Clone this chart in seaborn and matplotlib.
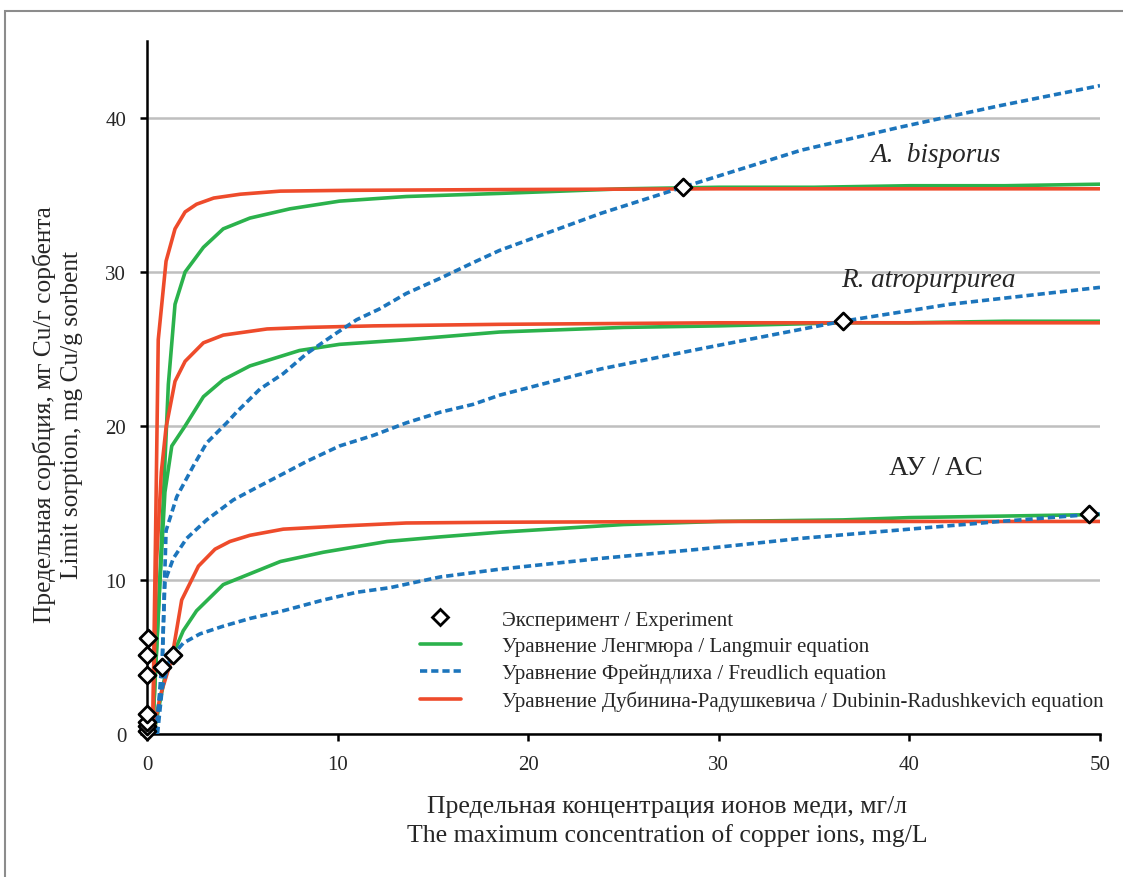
import numpy as np
import pandas as pd
import matplotlib
matplotlib.use("Agg")
import matplotlib.pyplot as plt
from matplotlib.lines import Line2D
from matplotlib.patches import Rectangle
import seaborn as sns

# experimental points
exp_x = [0.0, 0.0, 0.0, 0.0, 0.0, 0.0, 0.07, 0.8, 1.35, 28.1, 36.5, 49.4]
exp_y = [0.2, 0.5, 0.8, 1.3, 3.8, 5.1, 6.2, 4.35, 5.1, 35.5, 26.8, 14.3]

# A. bisporus
ab_lang_x = [0.3, 0.6, 0.86, 1.12, 1.47, 2.0, 2.96, 4.0, 5.4, 7.5, 10.1, 13.6, 18.5, 25, 30, 35, 40, 45, 50]
ab_lang_y = [0.3, 8.0, 15.4, 22.7, 27.9, 30.0, 31.6, 32.8, 33.5, 34.1, 34.6, 34.9, 35.1, 35.4, 35.5, 35.5, 35.6, 35.6, 35.7]
ab_dr_x = [0.3, 0.45, 0.59, 1.0, 1.47, 2.0, 2.6, 3.5, 4.9, 7.0, 10.5, 18.5, 30, 40, 50]
ab_dr_y = [0.3, 13.0, 25.6, 30.7, 32.8, 33.9, 34.4, 34.8, 35.05, 35.25, 35.3, 35.35, 35.4, 35.4, 35.4]
ab_fr_x = [0.45, 0.8, 0.9, 1.0, 1.56, 2.43, 3.13, 4.18, 4.7, 5.93, 7.15, 8.38, 9.78, 11.0, 12.2, 13.6,
           15.4, 17.1, 18.5, 23.8, 28.1, 34.3, 39.5, 44.75, 50]
ab_fr_y = [0.0, 4.0, 9.0, 13.2, 15.4, 17.4, 18.9, 20.2, 20.9, 22.4, 23.4, 24.7, 25.9, 26.9, 27.6, 28.6,
           29.6, 30.6, 31.4, 33.8, 35.5, 37.9, 39.4, 40.8, 42.1]

# R. atropurpurea
ra_lang_x = [0.3, 0.6, 0.94, 1.3, 2.0, 2.96, 4.0, 5.4, 8.0, 10.1, 13.6, 18.5, 25, 30, 36.5, 40, 45, 50]
ra_lang_y = [0.3, 8.0, 15.7, 18.7, 20.0, 21.9, 23.0, 23.9, 24.9, 25.3, 25.6, 26.1, 26.4, 26.5, 26.7, 26.7, 26.8, 26.8]
ra_dr_x = [0.3, 0.5, 0.75, 1.0, 1.47, 2.0, 2.96, 4.0, 6.3, 8.4, 11.9, 18.5, 30, 40, 50]
ra_dr_y = [0.3, 11.2, 17.0, 19.9, 22.9, 24.2, 25.4, 25.9, 26.3, 26.4, 26.5, 26.6, 26.7, 26.7, 26.7]
ra_fr_x = [0.5, 0.8, 0.94, 1.38, 2.08, 3.13, 4.53, 5.75, 7.15, 8.38, 10.1, 11.9, 13.6, 15.4, 17.1, 18.5,
           23.8, 29.0, 36.5, 42.1, 50]
ra_fr_y = [0.0, 5.0, 9.9, 11.4, 12.7, 13.9, 15.2, 16.0, 16.9, 17.7, 18.7, 19.4, 20.2, 20.9, 21.4, 22.0,
           23.7, 25.0, 26.8, 27.9, 29.0]

# activated carbon
ac_lang_x = [0.4, 0.9, 1.38, 1.9, 2.6, 4.0, 5.4, 7.0, 9.25, 12.6, 15.4, 18.5, 25, 30, 36.5, 40, 45, 50]
ac_lang_y = [0.3, 3.5, 5.2, 6.7, 8.0, 9.7, 10.4, 11.2, 11.8, 12.5, 12.8, 13.1, 13.6, 13.8, 13.9, 14.05, 14.15, 14.25]
ac_dr_x = [0.35, 0.7, 1.3, 1.82, 2.7, 3.57, 4.35, 5.4, 7.15, 10.1, 13.6, 18.5, 30, 40, 50]
ac_dr_y = [0.3, 2.5, 4.9, 8.7, 10.9, 12.0, 12.5, 12.9, 13.3, 13.5, 13.7, 13.75, 13.8, 13.8, 13.8]
ac_fr_x = [0.55, 0.8, 1.2, 1.9, 2.78, 4.0, 5.4, 7.15, 9.25, 11.0, 12.75, 15.4, 18.5, 23.8, 29.0, 34.3, 40, 44.75, 50]
ac_fr_y = [0.0, 3.0, 4.9, 5.9, 6.5, 7.0, 7.5, 8.0, 8.7, 9.2, 9.5, 10.2, 10.7, 11.4, 12.0, 12.7, 13.3, 13.8, 14.3]

legend_labels = ["Эксперимент / Experiment",
                 "Уравнение Ленгмюра / Langmuir equation",
                 "Уравнение Фрейндлиха / Freudlich equation",
                 "Уравнение Дубинина-Радушкевича / Dubinin-Radushkevich equation"]

green = "#2BB24C"
blue = "#1C75BC"
red = "#EE4B2B"

sns.set_theme(style="white")
plt.rcParams["font.family"] = ["Liberation Serif", "DejaVu Serif"]

fig = plt.figure(figsize=(11.23, 8.78), dpi=100)
ax = fig.add_axes([0.1309, 0.1629, 0.8486, 0.7893])

lw = 2.6
for xs, ys in [(ab_lang_x, ab_lang_y), (ra_lang_x, ra_lang_y), (ac_lang_x, ac_lang_y)]:
    sns.lineplot(x=xs, y=ys, ax=ax, color=green, lw=lw, sort=False, estimator=None, zorder=3)
for xs, ys in [(ab_dr_x, ab_dr_y), (ra_dr_x, ra_dr_y), (ac_dr_x, ac_dr_y)]:
    sns.lineplot(x=xs, y=ys, ax=ax, color=red, lw=lw, sort=False, estimator=None, zorder=3)
for xs, ys in [(ab_fr_x, ab_fr_y), (ra_fr_x, ra_fr_y), (ac_fr_x, ac_fr_y)]:
    sns.lineplot(x=xs, y=ys, ax=ax, color=blue, lw=lw, sort=False, estimator=None, zorder=4,
                 dashes=False, linestyle=(0, (2.0, 1.1)))

sns.scatterplot(x=exp_x, y=exp_y, ax=ax, marker="D", s=75, facecolor="white",
                edgecolor="black", linewidth=2, zorder=6, clip_on=False)

ax.set_xlim(0, 50)
ax.set_ylim(0, 45)
ax.set_xticks([0, 10, 20, 30, 40, 50])
ax.set_yticks([0, 10, 20, 30, 40])
ax.yaxis.grid(True, color="#BFBFBF", lw=1.8)
ax.xaxis.grid(False)
ax.set_axisbelow(True)
for s in ["top", "right"]:
    ax.spines[s].set_visible(False)
for s in ["left", "bottom"]:
    ax.spines[s].set_color("black")
    ax.spines[s].set_linewidth(1.8)
ax.tick_params(axis="both", direction="out", length=5, width=1.8, color="black",
               labelsize=15, bottom=True, left=True)
ax.tick_params(axis="y", pad=10)
ax.tick_params(axis="x", pad=10)

ax.text(41.4, 37.6, "A.  bisporus", style="italic", fontsize=19.5, ha="center", va="center")
ax.text(41.0, 29.5, "R. atropurpurea", style="italic", fontsize=19.5, ha="center", va="center")
ax.text(41.4, 17.3, "АУ / AC", fontsize=19.5, ha="center", va="center")

handles = [Line2D([], [], marker="D", ls="none", markersize=8, markerfacecolor="white",
                  markeredgecolor="black", markeredgewidth=2),
           Line2D([], [], color=green, lw=lw),
           Line2D([], [], color=blue, lw=lw, linestyle=(0, (2.0, 1.1))),
           Line2D([], [], color=red, lw=lw)]
ax.legend(handles, legend_labels, loc="upper left", bbox_to_anchor=(0.2865, 0.179),
          frameon=False, fontsize=15, handlelength=1.95, handletextpad=2.0,
          labelspacing=0.35, borderpad=0, borderaxespad=0)

fig.text(667 / 1123, 1 - 821.5 / 878, "Предельная концентрация ионов меди, мг/л\nThe maximum concentration of copper ions, mg/L",
         ha="center", va="center", fontsize=18.5, linespacing=1.3)
fig.text(57.5 / 1123, 1 - 415 / 878, "Предельная сорбция, мг Cu/г сорбента\nLimit sorption, mg Cu/g sorbent",
         ha="center", va="center", rotation=90, fontsize=18.3, linespacing=1.3)

fig.patches.append(Rectangle((5 / 1123, -0.05), 1.1, 1.05 - 12 / 878, transform=fig.transFigure,
                             fill=False, edgecolor="#8C8C8C", lw=1.5))

fig.savefig("out.png", dpi=100)
